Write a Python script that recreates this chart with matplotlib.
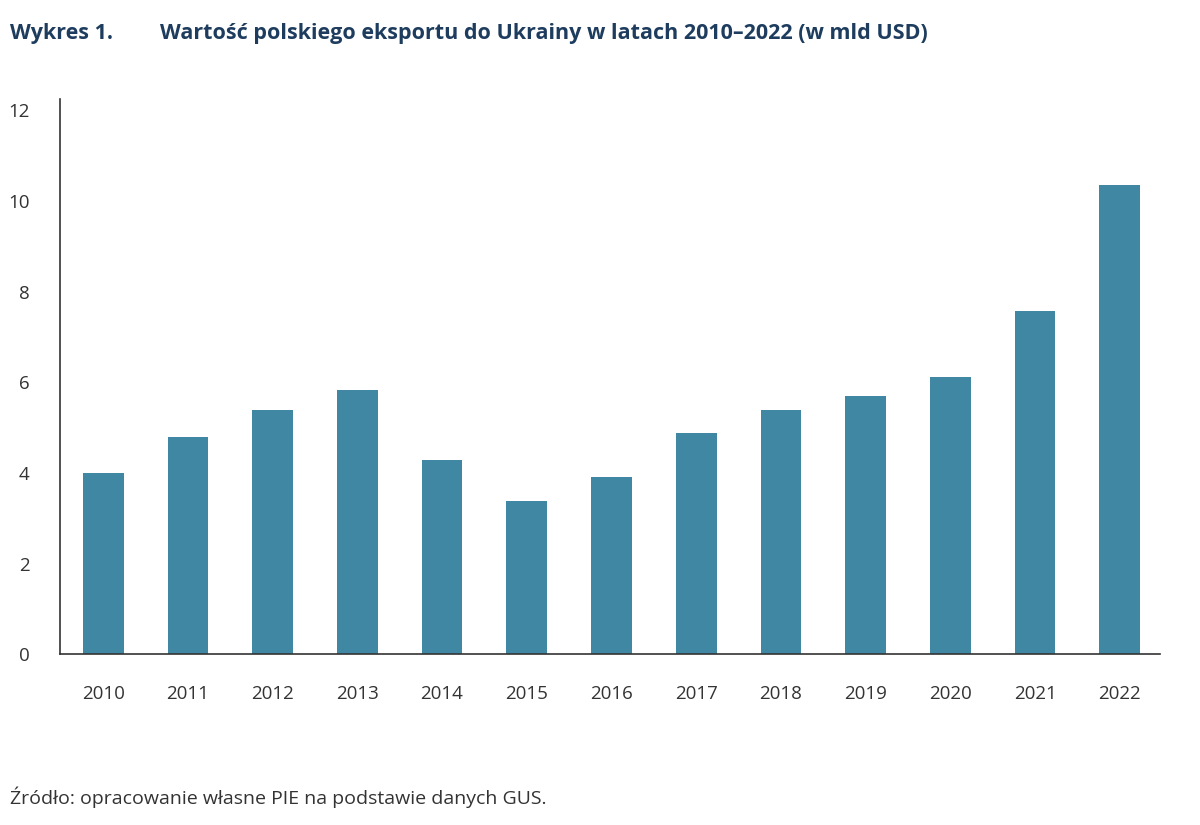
import matplotlib
matplotlib.use("Agg")
import matplotlib.pyplot as plt

# values (mld USD)
years = [str(y) for y in range(2010, 2023)]
export = [3.99, 4.79, 5.38, 5.82, 4.28, 3.38, 3.90, 4.88, 5.38, 5.69, 6.11, 7.57, 10.35]
yticks = [0, 2, 4, 6, 8, 10, 12]

plt.rcParams['font.family'] = ['Open Sans', 'DejaVu Sans']

fig = plt.figure(figsize=(12, 8.25), dpi=100)
ax = fig.add_axes([0.05, 0.207, 0.917, 0.673])

ax.bar(range(len(years)), export, width=0.48, color='#3f87a3')
ax.set_xlim(-0.51, len(years) - 0.52)
ax.set_ylim(0, 12.25)
ax.set_yticks(yticks)
ax.set_xticks(range(len(years)))
ax.set_xticklabels(years)
ax.tick_params(length=0, labelsize=13.5, colors='#333333')
ax.tick_params(axis='x', pad=22)
ax.tick_params(axis='y', pad=22)
for s in ['top', 'right']:
    ax.spines[s].set_visible(False)
for s in ['left', 'bottom']:
    ax.spines[s].set_color('#333333')
    ax.spines[s].set_linewidth(1.2)

fig.text(0.008, 0.953, 'Wykres 1.', fontsize=15.5, fontweight='bold', color='#1d3c5e')
fig.text(0.133, 0.953, 'Wartość polskiego eksportu do Ukrainy w latach 2010–2022 (w mld USD)',
         fontsize=15.5, fontweight='bold', color='#1d3c5e')
fig.text(0.008, 0.025, 'Źródło: opracowanie własne PIE na podstawie danych GUS.',
         fontsize=14, color='#333333')

fig.savefig('out.png')
